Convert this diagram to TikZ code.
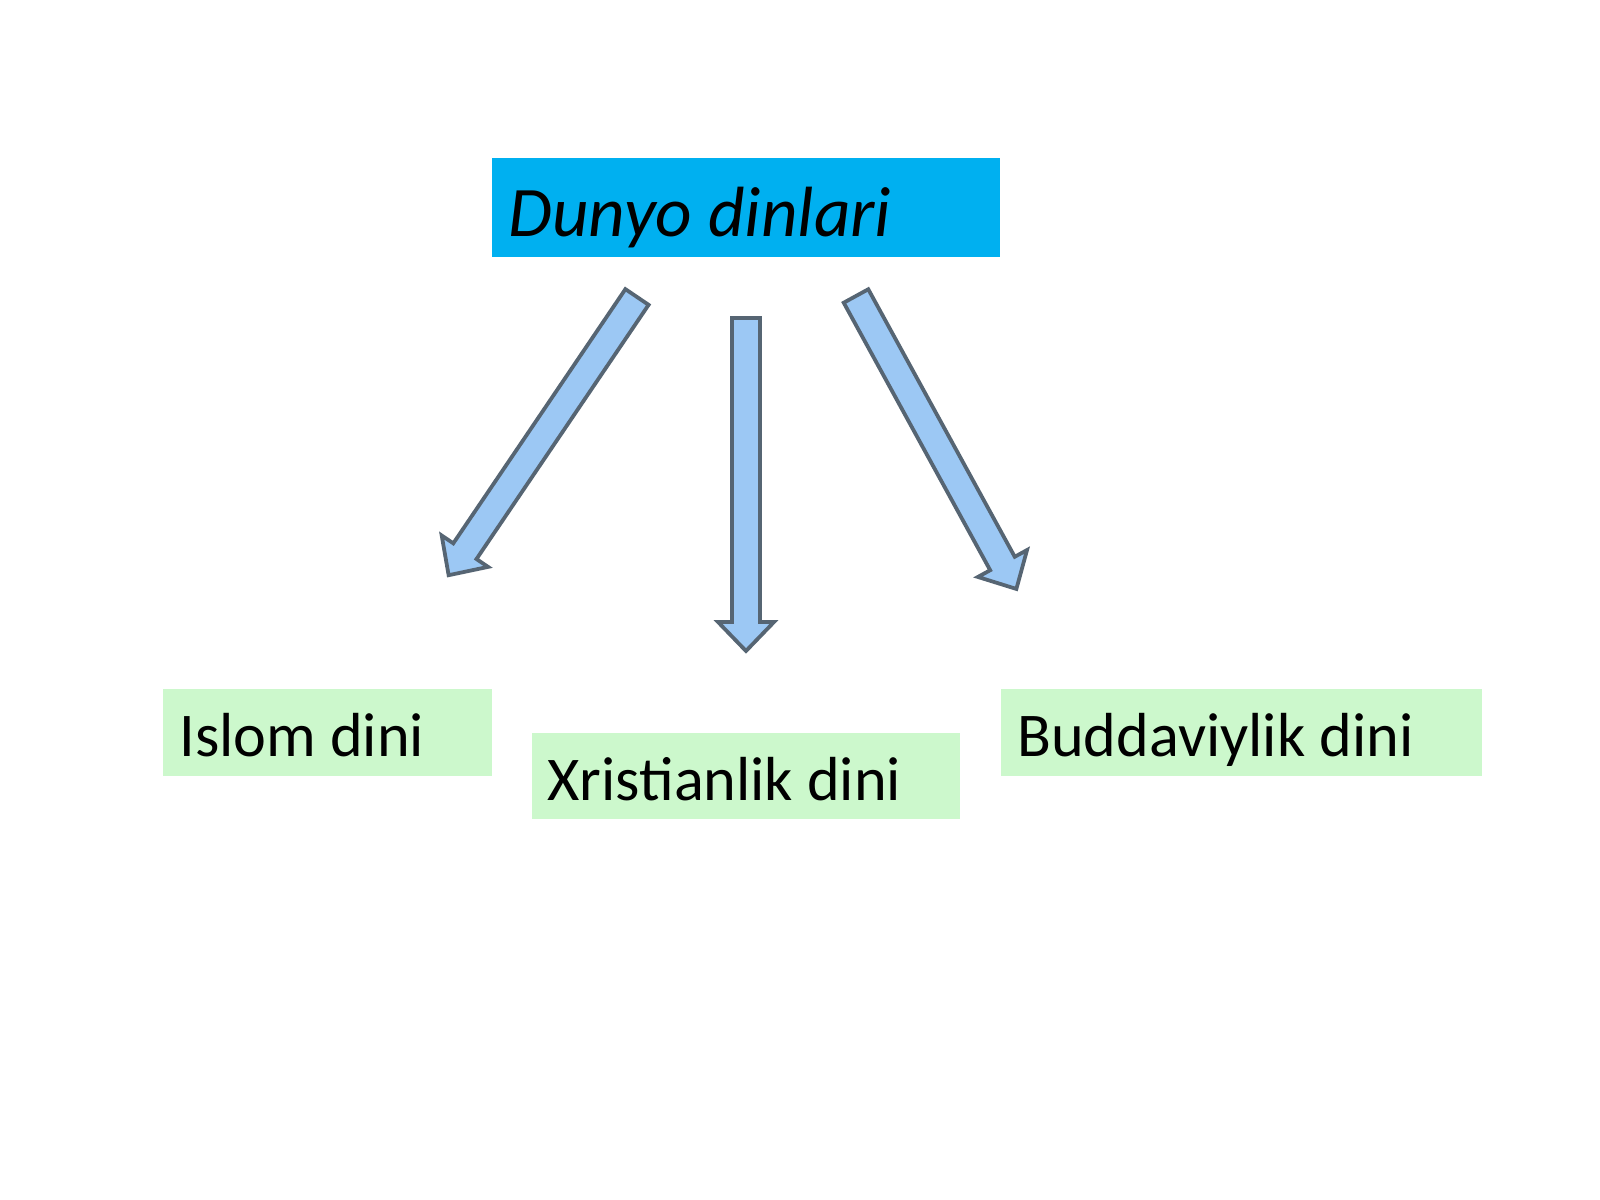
\documentclass[tikz,border=0pt]{standalone}
\usepackage{fontspec}
\setmainfont{Carlito}
\definecolor{headblue}{HTML}{00B0F0}
\definecolor{leafgreen}{HTML}{CCF8CC}
\definecolor{arrowfill}{HTML}{9CC8F4}
\definecolor{arrowline}{HTML}{566573}
\tikzset{
  x=0.45pt, y=0.45pt,
  headbox/.style={fill=headblue, draw=none, inner sep=0pt, anchor=north west},
  leafbox/.style={fill=leafgreen, draw=none, inner sep=0pt, anchor=north west},
  headtext/.style={anchor=base west, inner sep=0pt, font=\fontsize{32}{38}\selectfont\itshape},
  leaftext/.style={anchor=base west, inner sep=0pt, font=\fontsize{28}{34}\selectfont},
  blockarrow/.style={fill=arrowfill, draw=arrowline, line width=1.7pt, line join=miter},
}
\begin{document}
\begin{tikzpicture}
\useasboundingbox[fill=white] (0,0) rectangle (1600,1200);
% boxes (y-up: Y = 1200 - y)
\node[headbox, minimum width=228.6pt, minimum height=44.55pt] (root) at (492,1042) {};
\node[headtext] (roottxt) at (508,963) {Dunyo dinlari};

\node[leafbox, minimum width=148.05pt, minimum height=39.15pt] (islom) at (163,511) {};
\node[leaftext] (islomtxt) at (179,443) {Islom dini};

\node[leafbox, minimum width=192.6pt, minimum height=38.7pt] (xrist) at (532,467) {};
\node[leaftext] (xristtxt) at (547,399) {Xristianlik dini};

\node[leafbox, minimum width=216.45pt, minimum height=39.15pt] (budda) at (1001,511) {};
\node[leaftext] (buddatxt) at (1017,443) {Buddaviylik dini};

% block arrows
\coordinate (tailL) at (637,903);
\coordinate (tailM) at (746,882);
\coordinate (tailR) at (856,904);
\begin{scope}[shift={(tailL)}, rotate=235.9]
  \draw[blockarrow] (0,-14) -- (307,-14) -- (307,-28) -- (336,0) -- (307,28) -- (307,14) -- (0,14) -- cycle;
\end{scope}
\begin{scope}[shift={(tailM)}, rotate=270]
  \draw[blockarrow] (0,-14) -- (304,-14) -- (304,-28) -- (333,0) -- (304,28) -- (304,14) -- (0,14) -- cycle;
\end{scope}
\begin{scope}[shift={(tailR)}, rotate=-61.3]
  \draw[blockarrow] (0,-14) -- (305,-14) -- (305,-28) -- (334,0) -- (305,28) -- (305,14) -- (0,14) -- cycle;
\end{scope}
\end{tikzpicture}
\end{document}
